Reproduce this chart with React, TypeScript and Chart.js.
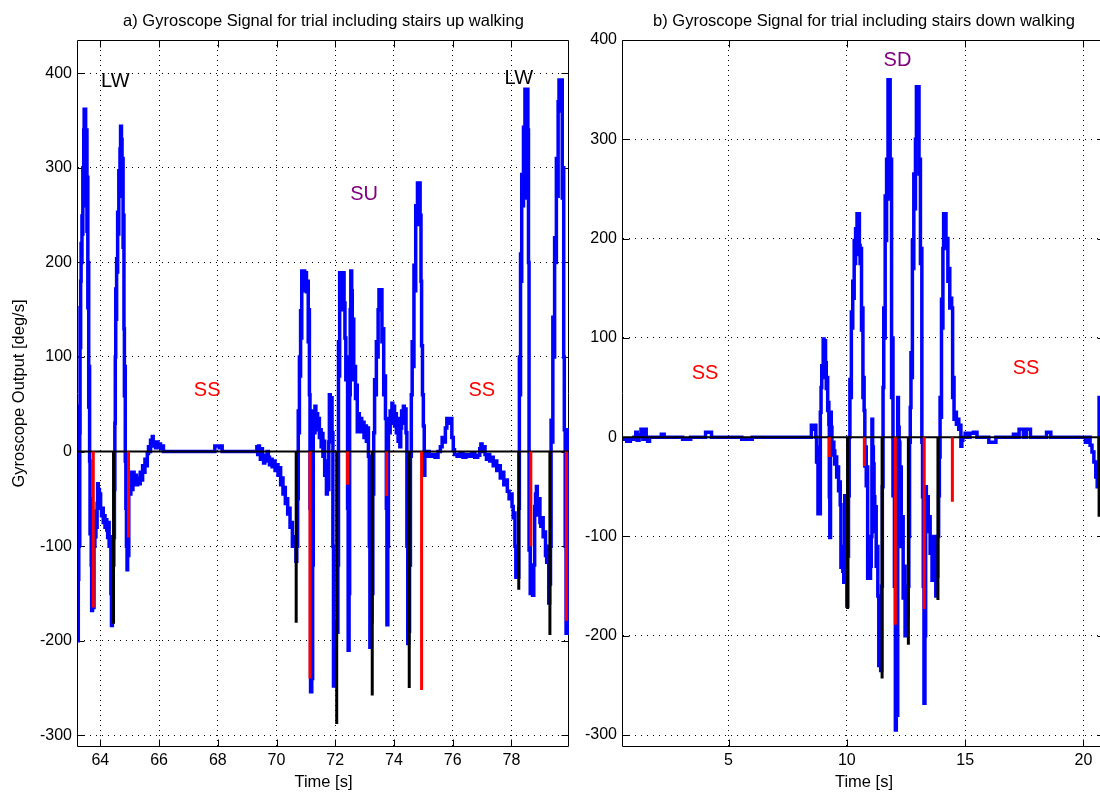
import React, { useEffect, useRef } from 'react';
import { Chart, registerables } from 'chart.js';

Chart.register(...registerables);

const FONT = "'Liberation Sans', Arial, Helvetica, sans-serif";

// ---------- Panel a) stairs up ----------
const upTitle = 'a) Gyroscope Signal for trial including stairs up walking';
const upRange = [63.24, 79.96];
const upYRange = [-312.4, 435.2];

// [time s, deg/s]
const upSignal: number[][] = [
  [63.24, -200], [63.25, 48], [63.258, -135], [63.266, -40], [63.274, -100], [63.282, -60], [63.29, -99],
  [63.30, 20], [63.31, 152], [63.32, 110], [63.33, 180], [63.345, 220], [63.36, 200], [63.375, 249],
  [63.39, 230], [63.405, 300], [63.42, 260], [63.435, 340], [63.45, 362], [63.47, 320], [63.485, 362],
  [63.50, 338], [63.515, 295], [63.53, 340], [63.545, 233], [63.56, 290], [63.575, 152], [63.59, 200],
  [63.605, 47], [63.62, 90], [63.635, -10], [63.65, -87], [63.67, -50], [63.69, -120], [63.705, -168],
  [63.735, -160], [63.75, -120], [63.765, -165], [63.785, -83], [63.80, -100], [63.815, -75], [63.83, -90],
  [63.85, -63], [63.87, -80], [63.89, -55], [63.91, -34], [63.93, -50], [63.95, -40], [63.97, -57],
  [63.99, -45], [64.01, -60], [64.04, -68], [64.07, -60], [64.10, -75], [64.13, -68], [64.16, -80],
  [64.19, -72], [64.22, -83], [64.25, -91], [64.28, -75], [64.30, -100], [64.33, -90], [64.36, -150],
  [64.38, -184], [64.41, -170], [64.44, -120], [64.46, -91], [64.48, -40], [64.495, 30], [64.51, 100],
  [64.525, 172], [64.54, 140], [64.555, 204], [64.575, 190], [64.59, 253], [64.61, 230], [64.63, 297],
  [64.65, 270], [64.67, 320], [64.69, 344], [64.72, 330], [64.74, 294], [64.76, 310], [64.775, 216],
  [64.79, 250], [64.805, 130], [64.82, 59], [64.835, 90], [64.85, -10], [64.87, -60], [64.89, -100],
  [64.91, -125], [64.93, -80], [64.95, -110], [64.97, -40], [64.99, -22], [65.01, -45], [65.04, -30],
  [65.08, -40], [65.11, -22], [65.15, -33], [65.19, -25], [65.23, -35], [65.27, -28], [65.32, -34],
  [65.36, -22], [65.40, -30], [65.44, -15], [65.48, -22], [65.52, -8], [65.56, -15], [65.60, -2],
  [65.64, 5], [65.68, 0], [65.71, 12], [65.74, 8], [65.77, 16], [65.80, 6], [65.84, 10], [65.88, 4],
  [65.92, 10], [65.96, 5], [66.00, 8], [66.05, 3], [66.10, 6], [66.15, 0],
  [67.90, 6], [68.05, 4], [68.10, 6], [68.15, 0],
  [69.30, 0], [69.33, 5], [69.36, -3], [69.39, 6], [69.42, -2], [69.45, -8], [69.48, 3], [69.52, -5],
  [69.56, -12], [69.60, -4], [69.64, -10], [69.68, 0], [69.72, -6], [69.76, -14], [69.80, -8],
  [69.85, -16], [69.90, -10], [69.95, -20], [70.00, -14], [70.05, -25], [70.10, -17], [70.14, -35],
  [70.18, -28], [70.22, -45], [70.26, -38], [70.30, -55], [70.34, -50], [70.38, -66], [70.42, -60],
  [70.46, -80], [70.50, -75], [70.54, -100], [70.58, -90], [70.62, -100], [70.66, -116], [70.69, -100],
  [70.72, -50], [70.74, 43], [70.76, 20], [70.78, 100], [70.80, 80], [70.82, 149], [70.84, 120],
  [70.86, 191], [70.90, 170], [70.93, 191], [70.96, 173], [70.99, 189], [71.02, 169], [71.05, 180],
  [71.08, 116], [71.10, 150], [71.12, 60], [71.14, -60], [71.16, -254], [71.20, -240], [71.23, -120],
  [71.25, 43], [71.28, 20], [71.31, 48], [71.34, 30], [71.37, 40], [71.40, 23], [71.43, 35],
  [71.46, 15], [71.49, 23], [71.52, 5], [71.55, 19], [71.58, -5], [71.61, 11], [71.64, -25],
  [71.67, -10], [71.70, -45], [71.73, -20], [71.76, -40], [71.78, 10], [71.80, 60], [71.83, 40],
  [71.86, 57], [71.89, 20], [71.92, -100], [71.94, -248], [71.98, -220], [72.02, -180], [72.06, -191],
  [72.09, -120], [72.11, 116], [72.13, 80], [72.15, 189], [72.18, 160], [72.21, 185], [72.24, 150],
  [72.27, 189], [72.30, 157], [72.33, 120], [72.36, 76], [72.39, 100], [72.42, -60], [72.44, -210],
  [72.47, -150], [72.49, 60], [72.51, 150], [72.53, 191], [72.56, 170], [72.58, 116], [72.61, 140],
  [72.63, 76], [72.66, 90], [72.69, 56], [72.72, 70], [72.75, 21], [72.78, 40], [72.82, 21],
  [72.86, 35], [72.90, 25], [72.94, 31], [72.98, 15], [73.02, 27], [73.06, 11], [73.10, 25],
  [73.13, -5], [73.16, -100], [73.18, -207], [73.22, -180], [73.25, -150], [73.28, -45], [73.31, 20],
  [73.34, 76], [73.37, 60], [73.40, 116], [73.43, 100], [73.46, 150], [73.49, 171], [73.53, 150],
  [73.56, 171], [73.59, 116], [73.62, 130], [73.65, 60], [73.68, 80], [73.71, 35], [73.74, -60],
  [73.76, -183], [73.79, -100], [73.81, 35], [73.84, 20], [73.87, 43], [73.90, 30], [73.93, 51],
  [73.96, 35], [73.99, 48], [74.02, 27], [74.05, 40], [74.08, 20], [74.11, 35], [74.14, 11],
  [74.17, 27], [74.20, 5], [74.23, 25], [74.26, 43], [74.29, 30], [74.32, 48], [74.35, 38],
  [74.38, 45], [74.41, 20], [74.44, -100], [74.47, -203], [74.50, -190], [74.53, -120], [74.56, -5],
  [74.59, 60], [74.62, 116], [74.65, 90], [74.68, 197], [74.71, 170], [74.74, 260], [74.77, 240],
  [74.80, 284], [74.83, 270], [74.86, 284], [74.89, 250], [74.92, 180], [74.94, 112], [74.97, 60],
  [75.00, 27], [75.03, -25], [75.05, 0], [75.10, -5], [75.15, 0], [75.20, -5], [75.30, -3],
  [75.40, -6], [75.50, 0], [75.58, 5], [75.64, 15], [75.70, 10], [75.75, 25], [75.80, 35],
  [75.86, 30], [75.92, 35], [75.97, 15], [76.02, 2], [76.06, -3], [76.15, -5], [76.25, -2],
  [76.35, -6], [76.45, -3], [76.55, -5], [76.65, -2], [76.75, -6], [76.85, -4], [76.92, 3],
  [76.96, 8], [77.00, 0], [77.05, 5], [77.10, -3], [77.15, -8], [77.20, -3], [77.26, -10],
  [77.32, -6], [77.38, -15], [77.44, -10], [77.50, -20], [77.56, -15], [77.62, -28], [77.68, -22],
  [77.74, -35], [77.80, -30], [77.86, -42], [77.92, -50], [77.98, -45], [78.02, -58], [78.06, -70],
  [78.09, -65], [78.12, -100], [78.15, -133], [78.18, -120], [78.22, -133], [78.25, -60], [78.27, 100],
  [78.29, 60], [78.31, 209], [78.33, 180], [78.35, 293], [78.38, 260], [78.41, 343], [78.44, 300],
  [78.46, 383], [78.48, 268], [78.50, 330], [78.53, 383], [78.56, 340], [78.58, 200], [78.60, -104],
  [78.62, -60], [78.64, -150], [78.68, -130], [78.72, -152], [78.76, -120], [78.79, -58], [78.82, -45],
  [78.85, -37], [78.88, -55], [78.91, -67], [78.94, -50], [78.97, -75], [79.00, -79], [79.04, -70],
  [79.08, -90], [79.12, -85], [79.16, -110], [79.20, -117], [79.24, -100], [79.27, -160], [79.30, -140],
  [79.33, -100], [79.35, 33], [79.38, 10], [79.41, 142], [79.44, 100], [79.47, 226], [79.50, 200],
  [79.53, 310], [79.56, 270], [79.59, 370], [79.62, 393], [79.66, 360], [79.70, 393], [79.73, 268],
  [79.76, 300], [79.78, 100], [79.80, 23], [79.83, -100], [79.86, -192], [79.90, -170], [79.93, 23],
  [79.96, 23],
];

const upRedT = [63.76, 64.96, 71.14, 72.42, 73.75, 74.94, 78.66, 79.87];
const upRedV = [-165, -91, -240, -35, -47, -252, -100, -179];
const upBlackT = [64.45, 70.67, 72.05, 73.26, 74.52, 78.25, 79.31];
const upBlackV = [-182, -181, -288, -258, -250, -146, -194];

const upLabelText = ['LW', 'SS', 'SU', 'SS', 'LW'];
const upLabelT = [64.51, 67.64, 72.98, 76.99, 78.25];
const upLabelV = [391, 65, 272, 65, 394];
const upLabelColor = ['#000000', '#ff0000', '#800080', '#ff0000', '#000000'];

// ---------- Panel b) stairs down ----------
const dnTitle = 'b) Gyroscope Signal for trial including stairs down walking';
const dnRange = [0.54, 20.91];
const dnYRange = [-312, 400];

const dnSignal: number[][] = [
  [0.54, -2], [0.70, -4], [0.85, -2], [1.00, 0], [1.08, 5], [1.14, -3], [1.22, 2], [1.30, 8],
  [1.38, -2], [1.45, 8], [1.52, 0], [1.58, -4], [1.66, 0], [2.10, 0], [2.16, 3], [2.28, 0],
  [3.00, 0], [3.06, -2], [3.40, 0], [4.00, 0], [4.03, 5], [4.28, 0], [5.50, 0], [5.56, -2],
  [6.00, 0], [8.00, 0], [8.45, 0], [8.50, 12], [8.58, 8], [8.64, 12], [8.69, 0], [8.72, -25],
  [8.75, -10], [8.78, -77], [8.82, -55], [8.85, -77], [8.88, 25], [8.91, 50], [8.94, 72], [8.97, 60],
  [9.00, 99], [9.04, 90], [9.07, 97], [9.10, 75], [9.13, 49], [9.16, 60], [9.19, 27], [9.22, 35],
  [9.24, 13], [9.26, -60], [9.28, -101], [9.31, 25], [9.34, 10], [9.37, -18], [9.41, -5], [9.45, -14],
  [9.49, -27], [9.53, -20], [9.57, -40], [9.61, -30], [9.65, -54], [9.69, -45], [9.72, -68],
  [9.75, -131], [9.79, -110], [9.83, -135], [9.87, -146], [9.91, -59], [9.94, -80], [9.97, -135],
  [10.00, -170], [10.04, -120], [10.07, -59], [10.10, 0], [10.13, 58], [10.16, 40], [10.19, 126],
  [10.22, 110], [10.25, 157], [10.28, 140], [10.31, 198], [10.34, 175], [10.37, 210], [10.40, 184],
  [10.43, 225], [10.47, 205], [10.50, 225], [10.53, 193], [10.56, 175], [10.59, 190], [10.62, 108],
  [10.65, 130], [10.68, 40], [10.71, 60], [10.73, 27], [10.76, -29], [10.79, -10], [10.82, -49],
  [10.85, -30], [10.88, -142], [10.92, -120], [10.96, -142], [11.00, -130], [11.03, -100], [11.06, 18],
  [11.09, -10], [11.12, -27], [11.15, -60], [11.18, -95], [11.21, -70], [11.24, -130], [11.28, -110],
  [11.31, -160], [11.35, -230], [11.39, -200], [11.43, -235], [11.47, -150], [11.50, -50], [11.53, 50],
  [11.56, 130], [11.59, 100], [11.62, 243], [11.65, 198], [11.68, 280], [11.71, 240], [11.74, 360],
  [11.77, 300], [11.80, 360], [11.83, 243], [11.86, 280], [11.89, 40], [11.92, 100], [11.95, -59],
  [11.98, -20], [12.01, -150], [12.05, -295], [12.09, -250], [12.12, -280], [12.15, 40], [12.18, 10],
  [12.21, -5], [12.24, -50], [12.27, -30], [12.30, -110], [12.34, -80], [12.38, -162], [12.42, -130],
  [12.46, -200], [12.50, -150], [12.54, -180], [12.58, -150], [12.62, -100], [12.65, -5], [12.68, 30],
  [12.71, 85], [12.74, 60], [12.77, 198], [12.80, 170], [12.83, 265], [12.86, 230], [12.90, 300],
  [12.94, 353], [12.98, 300], [13.02, 353], [13.05, 265], [13.08, 280], [13.11, 175], [13.14, 190],
  [13.17, -5], [13.20, -60], [13.23, -150], [13.26, -268], [13.30, -200], [13.33, -50], [13.36, -72],
  [13.40, -60], [13.44, -95], [13.48, -80], [13.52, -117], [13.56, -100], [13.60, -144], [13.64, -130],
  [13.68, -144], [13.72, -100], [13.76, -160], [13.80, -140], [13.84, -100], [13.88, -59], [13.91, -20],
  [13.94, 40], [13.97, 20], [14.00, 139], [14.03, 110], [14.06, 190], [14.09, 225], [14.13, 190],
  [14.16, 225], [14.19, 193], [14.23, 200], [14.27, 157], [14.31, 170], [14.35, 130], [14.39, 140],
  [14.43, 130], [14.47, 40], [14.50, 60], [14.53, 18], [14.58, 25], [14.63, 13], [14.68, 18],
  [14.73, 8], [14.78, 12], [14.82, -9], [14.86, -3], [14.90, 0], [15.00, 4], [15.10, 0], [15.20, 4],
  [15.35, 5], [15.50, 0], [15.90, 0], [16.00, -5], [16.20, -5], [16.30, 0], [17.00, 0], [17.04, 3],
  [17.18, 0], [17.28, 8], [17.46, 0], [17.58, 8], [17.76, 0], [18.40, 0], [18.44, 5], [18.62, 0],
  [20.00, 0], [20.08, -5], [20.16, 0], [20.28, -8], [20.36, -15], [20.44, -25], [20.52, -40],
  [20.58, -50], [20.66, 40], [20.80, 40], [20.91, 20],
];

const dnRedT = [9.26, 10.74, 12.05, 13.27, 14.46];
const dnRedV = [-20, -29, -189, -173, -65];
const dnBlackT = [10.03, 11.49, 12.6, 13.85, 20.66];
const dnBlackV = [-173, -243, -209, -164, -80];

const dnLabelText = ['SS', 'SD', 'SS'];
const dnLabelT = [4.01, 12.14, 17.57];
const dnLabelV = [64, 379, 69];
const dnLabelColor = ['#ff0000', '#800080', '#ff0000'];

const xAxisTitle = 'Time [s]';
const yAxisTitle = 'Gyroscope Output [deg/s]';

// ---------- helpers ----------
function trace(sig: number[][]) {
  return sig.map((p) => ({ x: p[0], y: p[1] }));
}
function marks(t: number[], d: number[]) {
  const out: any[] = [];
  t.forEach((x, i) => {
    out.push({ x, y: 0 }, { x, y: d[i] }, { x, y: null });
  });
  return out;
}

const decorPlugin = {
  id: 'decor',
  beforeDatasetsDraw(chart: any) {
    const { ctx, chartArea: a, scales } = chart;
    const L = a.left - 0.5;
    const R = a.right - 0.5;
    const T = a.top + 0.5;
    const B = a.bottom - 0.5;
    ctx.save();
    ctx.strokeStyle = '#000';
    ctx.lineWidth = 1;
    ctx.setLineDash([]);
    ctx.beginPath();
    ctx.moveTo(L, T);
    ctx.lineTo(R, T);
    ctx.lineTo(R, B);
    ctx.lineTo(L, B);
    ctx.closePath();
    ctx.stroke();
    const tl = 7;
    ctx.beginPath();
    scales.x.ticks.forEach((tk: any) => {
      const px = Math.round(scales.x.getPixelForValue(tk.value)) + 0.5;
      ctx.moveTo(px, B);
      ctx.lineTo(px, B - tl);
      ctx.moveTo(px, T);
      ctx.lineTo(px, T + tl);
    });
    scales.y.ticks.forEach((tk: any) => {
      const py = Math.round(scales.y.getPixelForValue(tk.value)) + 0.5;
      ctx.moveTo(L, py);
      ctx.lineTo(L + tl, py);
      ctx.moveTo(R, py);
      ctx.lineTo(R - tl, py);
    });
    ctx.stroke();
    ctx.restore();
  },
  afterDatasetsDraw(chart: any, _a: any, opts: any) {
    const { ctx, scales } = chart;
    const labels = opts.labels || [];
    ctx.save();
    ctx.font = `20px ${FONT}`;
    ctx.textAlign = 'center';
    ctx.textBaseline = 'middle';
    labels.forEach((l: any) => {
      ctx.fillStyle = l.color;
      ctx.fillText(l.text, scales.x.getPixelForValue(l.x), scales.y.getPixelForValue(l.y));
    });
    ctx.restore();
  },
};

function makeConfig(p: any): any {
  const labels = p.labelText.map((text: string, i: number) => ({
    text,
    x: p.labelT[i],
    y: p.labelV[i],
    color: p.labelColor[i],
  }));
  return {
    type: 'line',
    data: {
      datasets: [
        {
          data: marks(p.redT, p.redV),
          borderColor: '#ff0000',
          borderWidth: 3,
          pointRadius: 0,
          spanGaps: false,
          order: 0,
        },
        {
          data: marks(p.blackT, p.blackV),
          borderColor: '#000000',
          borderWidth: 3,
          pointRadius: 0,
          spanGaps: false,
          order: 1,
        },
        {
          data: [
            { x: p.xRange[0], y: 0 },
            { x: p.xRange[1], y: 0 },
          ],
          borderColor: '#000000',
          borderWidth: 2,
          pointRadius: 0,
          order: 2,
        },
        {
          data: trace(p.signal),
          borderColor: '#0000ff',
          borderWidth: 3.5,
          pointRadius: 0,
          stepped: true,
          borderJoinStyle: 'miter',
          order: 3,
        },
      ],
    },
    options: {
      responsive: false,
      maintainAspectRatio: false,
      animation: false,
      events: [],
      layout: { padding: { left: 0, right: p.padRight, top: 0, bottom: 0 } },
      plugins: {
        legend: { display: false },
        tooltip: { enabled: false },
        title: {
          display: true,
          text: p.title,
          fullSize: false,
          color: '#000',
          font: { family: FONT, size: 16.5, weight: 'normal' },
          padding: { top: 11.5, bottom: 8.7 },
        },
        decor: { labels },
      },
      scales: {
        x: {
          type: 'linear',
          min: p.xRange[0],
          max: p.xRange[1],
          afterFit: (s: any) => {
            s.height = 45;
          },
          ticks: {
            stepSize: p.xStep,
            includeBounds: false,
            color: '#000',
            padding: 4,
            maxRotation: 0,
            font: { family: FONT, size: 16 },
          },
          grid: { color: '#000', lineWidth: 1, drawTicks: false },
          border: { display: false, dash: [1, 4] },
          title: {
            display: true,
            text: xAxisTitle,
            color: '#000',
            font: { family: FONT, size: 16.5 },
            padding: { top: 0, bottom: 0 },
          },
        },
        y: {
          type: 'linear',
          min: p.yRange[0],
          max: p.yRange[1],
          afterFit: (s: any) => {
            s.width = p.yWidth;
          },
          ticks: {
            stepSize: 100,
            includeBounds: false,
            color: '#000',
            padding: 6,
            font: { family: FONT, size: 16 },
          },
          grid: { color: '#000', lineWidth: 1, drawTicks: false },
          border: { display: false, dash: [1, 5] },
          title: {
            display: p.showYTitle,
            text: yAxisTitle,
            color: '#000',
            font: { family: FONT, size: 16.5 },
            padding: { top: 10, bottom: 0 },
          },
        },
      },
    },
    plugins: [decorPlugin],
  };
}

export default function App() {
  const leftRef = useRef<HTMLCanvasElement>(null);
  const rightRef = useRef<HTMLCanvasElement>(null);

  useEffect(() => {
    const c1 = new Chart(
      leftRef.current as HTMLCanvasElement,
      makeConfig({
        title: upTitle,
        xRange: upRange,
        yRange: upYRange,
        xStep: 2,
        signal: upSignal,
        redT: upRedT,
        redV: upRedV,
        blackT: upBlackT,
        blackV: upBlackV,
        labelText: upLabelText,
        labelT: upLabelT,
        labelV: upLabelV,
        labelColor: upLabelColor,
        yWidth: 78,
        padRight: 6,
        showYTitle: true,
      })
    );
    const c2 = new Chart(
      rightRef.current as HTMLCanvasElement,
      makeConfig({
        title: dnTitle,
        xRange: dnRange,
        yRange: dnYRange,
        xStep: 5,
        signal: dnSignal,
        redT: dnRedT,
        redV: dnRedV,
        blackT: dnBlackT,
        blackV: dnBlackV,
        labelText: dnLabelText,
        labelT: dnLabelT,
        labelV: dnLabelV,
        labelColor: dnLabelColor,
        yWidth: 48,
        padRight: 0,
        showYTitle: false,
      })
    );
    return () => {
      c1.destroy();
      c2.destroy();
    };
  }, []);

  return (
    <div
      style={{
        position: 'absolute',
        left: 0,
        top: 0,
        width: 1100,
        height: 792,
        overflow: 'hidden',
        background: '#ffffff',
      }}
    >
      <canvas
        ref={leftRef}
        width={575}
        height={792}
        style={{ position: 'absolute', left: 0, top: 0, width: 575, height: 792 }}
      />
      <canvas
        ref={rightRef}
        width={530}
        height={792}
        style={{ position: 'absolute', left: 575, top: 0, width: 530, height: 792 }}
      />
    </div>
  );
}
